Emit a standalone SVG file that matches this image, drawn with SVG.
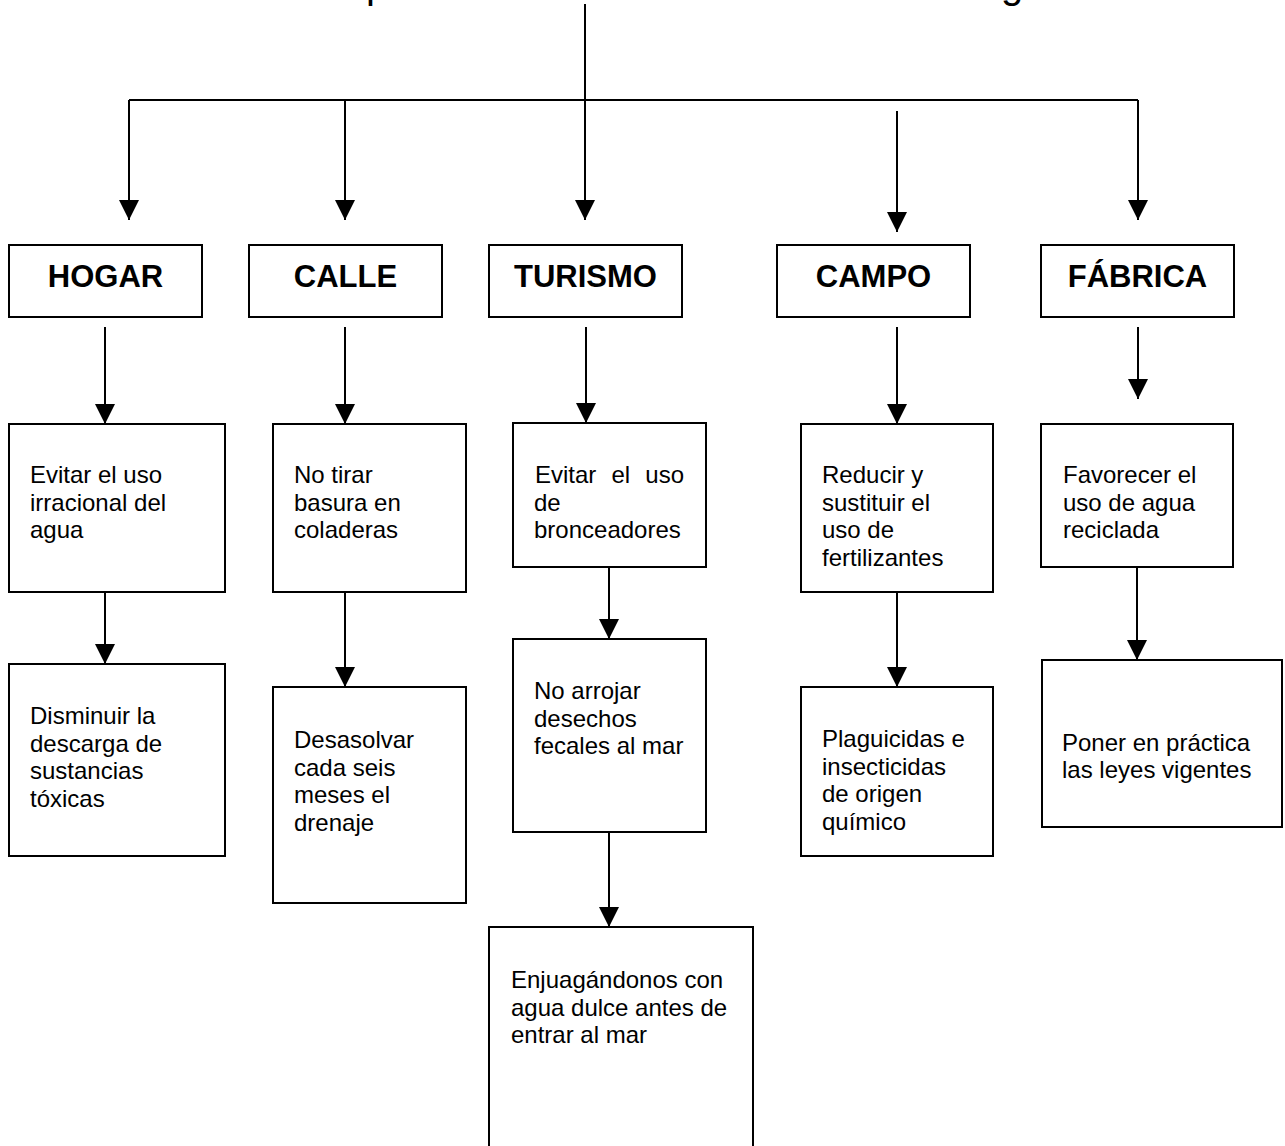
<svg xmlns="http://www.w3.org/2000/svg" width="1285" height="1146" viewBox="0 0 1285 1146">
<style>
.box{fill:#fff;stroke:#000;stroke-width:2}
.c{stroke:#000;stroke-width:2;fill:none}
.a{stroke:#000;stroke-width:2;fill:none;marker-end:url(#ah)}
.h{font-family:"Liberation Sans",Arial,sans-serif;font-weight:bold;font-size:31px;text-anchor:middle;fill:#000}
.t{font-family:"Liberation Sans",Arial,sans-serif;font-size:24px;fill:#000}
.ti{font-family:"Liberation Sans",Arial,sans-serif;font-size:40px;fill:#000}
</style>
<defs>
<marker id="ah" markerUnits="userSpaceOnUse" markerWidth="20" markerHeight="20" refX="20" refY="10" orient="auto" viewBox="0 0 20 20">
<path d="M0,0 L20,10 L0,20 z" fill="#000"/>
</marker>
</defs>
<rect width="1285" height="1146" fill="#fff"/>
<g id="title-fragments">
<text class="ti" x="366" y="-2">p</text>
<text class="ti" x="1001" y="-2">g</text>
</g>
<g id="connectors">
<path class="c" d="M129,100 H1138"/>
<path class="a" d="M585,4 V220"/>
<path class="a" d="M129,100 V220"/>
<path class="a" d="M345,100 V220"/>
<path class="a" d="M897,111 V232"/>
<path class="a" d="M1138,100 V220"/>
<path class="a" d="M105,327 V424"/>
<path class="a" d="M345,327 V424"/>
<path class="a" d="M586,327 V423"/>
<path class="a" d="M897,327 V424"/>
<path class="a" d="M1138,327 V399"/>
<path class="a" d="M105,592 V664"/>
<path class="a" d="M345,592 V687"/>
<path class="a" d="M609,567 V639"/>
<path class="a" d="M897,592 V687"/>
<path class="a" d="M1137,567 V660"/>
<path class="a" d="M609,832 V927"/>
</g>
<g id="hogar"><rect class="box" x="9" y="245" width="193" height="72"/><text class="h" x="105.5" y="287">HOGAR</text></g>
<g id="calle"><rect class="box" x="249" y="245" width="193" height="72"/><text class="h" x="345.5" y="287">CALLE</text></g>
<g id="turismo"><rect class="box" x="489" y="245" width="193" height="72"/><text class="h" x="585.5" y="287">TURISMO</text></g>
<g id="campo"><rect class="box" x="777" y="245" width="193" height="72"/><text class="h" x="873.5" y="287">CAMPO</text></g>
<g id="fabrica"><rect class="box" x="1041" y="245" width="193" height="72"/><text class="h" x="1137.5" y="287">FÁBRICA</text></g>

<g id="hogar-1"><rect class="box" x="9" y="424" width="216" height="168"/>
<text class="t" x="30" y="483">Evitar el uso</text><text class="t" x="30" y="510.5">irracional del</text><text class="t" x="30" y="538">agua</text></g>
<g id="hogar-2"><rect class="box" x="9" y="664" width="216" height="192"/>
<text class="t" x="30" y="724">Disminuir la</text><text class="t" x="30" y="751.5">descarga de</text><text class="t" x="30" y="779">sustancias</text><text class="t" x="30" y="806.5">tóxicas</text></g>

<g id="calle-1"><rect class="box" x="273" y="424" width="193" height="168"/>
<text class="t" x="294" y="483">No tirar</text><text class="t" x="294" y="510.5">basura en</text><text class="t" x="294" y="538">coladeras</text></g>
<g id="calle-2"><rect class="box" x="273" y="687" width="193" height="216"/>
<text class="t" x="294" y="748">Desasolvar</text><text class="t" x="294" y="775.5">cada seis</text><text class="t" x="294" y="803">meses el</text><text class="t" x="294" y="830.5">drenaje</text></g>

<g id="turismo-1"><rect class="box" x="513" y="423" width="193" height="144"/>
<text class="t" x="535" y="483">Evitar</text><text class="t" x="611.5" y="483">el</text><text class="t" x="684" y="483" text-anchor="end">uso</text>
<text class="t" x="534" y="510.5">de</text><text class="t" x="534" y="538">bronceadores</text></g>
<g id="turismo-2"><rect class="box" x="513" y="639" width="193" height="193"/>
<text class="t" x="534" y="699">No arrojar</text><text class="t" x="534" y="726.5">desechos</text><text class="t" x="534" y="754">fecales al mar</text></g>
<g id="turismo-3"><rect class="box" x="489" y="927" width="264" height="240"/>
<text class="t" x="511" y="988">Enjuagándonos con</text><text class="t" x="511" y="1015.5">agua dulce antes de</text><text class="t" x="511" y="1043">entrar al mar</text></g>

<g id="campo-1"><rect class="box" x="801" y="424" width="192" height="168"/>
<text class="t" x="822" y="483">Reducir y</text><text class="t" x="822" y="510.5">sustituir el</text><text class="t" x="822" y="538">uso de</text><text class="t" x="822" y="565.5">fertilizantes</text></g>
<g id="campo-2"><rect class="box" x="801" y="687" width="192" height="169"/>
<text class="t" x="822" y="747">Plaguicidas e</text><text class="t" x="822" y="774.5">insecticidas</text><text class="t" x="822" y="802">de origen</text><text class="t" x="822" y="829.5">químico</text></g>

<g id="fabrica-1"><rect class="box" x="1041" y="424" width="192" height="143"/>
<text class="t" x="1063" y="483">Favorecer el</text><text class="t" x="1063" y="510.5">uso de agua</text><text class="t" x="1063" y="538">reciclada</text></g>
<g id="fabrica-2"><rect class="box" x="1042" y="660" width="240" height="167"/>
<text class="t" x="1062" y="751">Poner en práctica</text><text class="t" x="1062" y="778">las leyes vigentes</text></g>
</svg>
